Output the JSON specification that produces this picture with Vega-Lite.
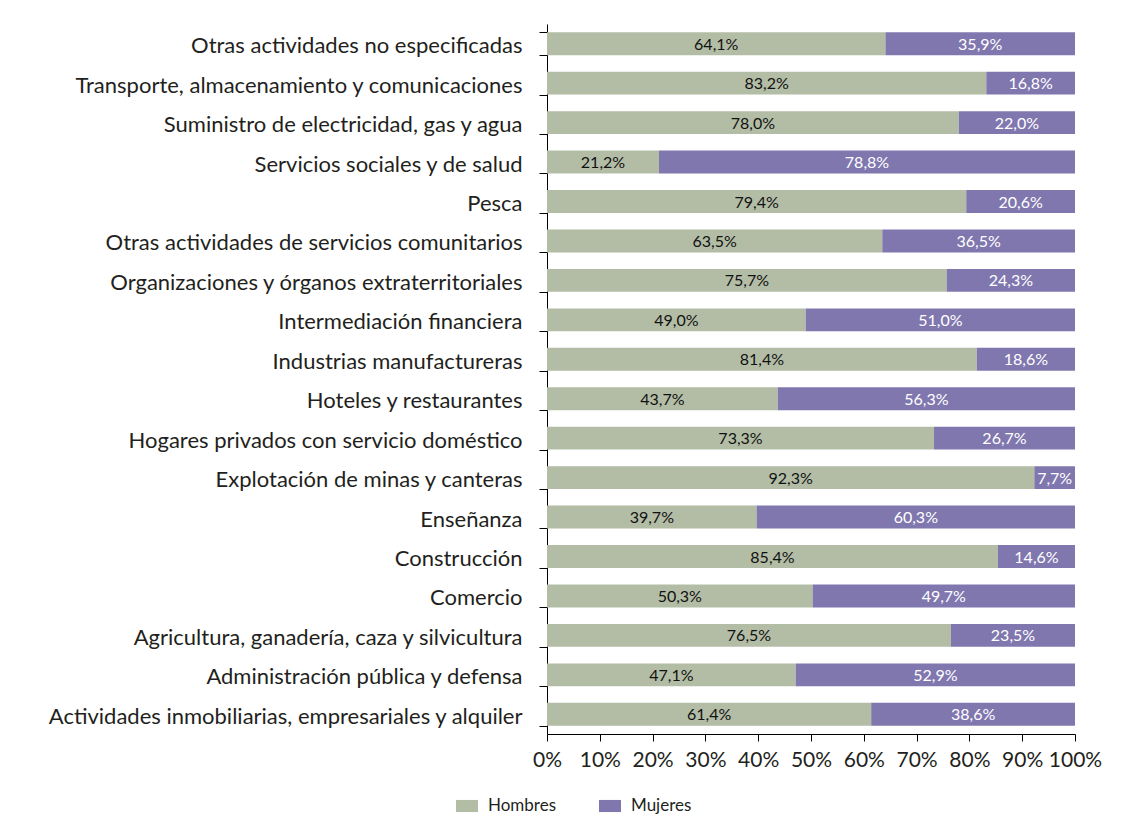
{
  "$schema": "https://vega.github.io/schema/vega-lite/v6.json",
  "autosize": "none",
  "padding": {"left": 547, "top": 24, "right": 59, "bottom": 89},
  "width": 528,
  "height": 710,
  "background": "white",
  "config": {
    "locale": {"number": {"decimal": ",", "thousands": ".", "grouping": [3], "currency": ["", " €"]}},
    "view": {"stroke": null},
    "font": "Lato"
  },
  "data": {
    "values": [
      {"actividad": "Otras actividades no especificadas", "sexo": "Hombres", "valor": 0.641},
      {"actividad": "Otras actividades no especificadas", "sexo": "Mujeres", "valor": 0.359},
      {"actividad": "Transporte, almacenamiento  y comunicaciones", "sexo": "Hombres", "valor": 0.832},
      {"actividad": "Transporte, almacenamiento  y comunicaciones", "sexo": "Mujeres", "valor": 0.168},
      {"actividad": "Suministro de electricidad, gas y agua", "sexo": "Hombres", "valor": 0.780},
      {"actividad": "Suministro de electricidad, gas y agua", "sexo": "Mujeres", "valor": 0.220},
      {"actividad": "Servicios sociales y de salud", "sexo": "Hombres", "valor": 0.212},
      {"actividad": "Servicios sociales y de salud", "sexo": "Mujeres", "valor": 0.788},
      {"actividad": "Pesca", "sexo": "Hombres", "valor": 0.794},
      {"actividad": "Pesca", "sexo": "Mujeres", "valor": 0.206},
      {"actividad": "Otras actividades de servicios comunitarios", "sexo": "Hombres", "valor": 0.635},
      {"actividad": "Otras actividades de servicios comunitarios", "sexo": "Mujeres", "valor": 0.365},
      {"actividad": "Organizaciones y órganos extraterritoriales", "sexo": "Hombres", "valor": 0.757},
      {"actividad": "Organizaciones y órganos extraterritoriales", "sexo": "Mujeres", "valor": 0.243},
      {"actividad": "Intermediación financiera", "sexo": "Hombres", "valor": 0.490},
      {"actividad": "Intermediación financiera", "sexo": "Mujeres", "valor": 0.510},
      {"actividad": "Industrias manufactureras", "sexo": "Hombres", "valor": 0.814},
      {"actividad": "Industrias manufactureras", "sexo": "Mujeres", "valor": 0.186},
      {"actividad": "Hoteles y restaurantes", "sexo": "Hombres", "valor": 0.437},
      {"actividad": "Hoteles y restaurantes", "sexo": "Mujeres", "valor": 0.563},
      {"actividad": "Hogares privados con servicio doméstico", "sexo": "Hombres", "valor": 0.733},
      {"actividad": "Hogares privados con servicio doméstico", "sexo": "Mujeres", "valor": 0.267},
      {"actividad": "Explotación de minas y canteras", "sexo": "Hombres", "valor": 0.923},
      {"actividad": "Explotación de minas y canteras", "sexo": "Mujeres", "valor": 0.077},
      {"actividad": "Enseñanza", "sexo": "Hombres", "valor": 0.397},
      {"actividad": "Enseñanza", "sexo": "Mujeres", "valor": 0.603},
      {"actividad": "Construcción", "sexo": "Hombres", "valor": 0.854},
      {"actividad": "Construcción", "sexo": "Mujeres", "valor": 0.146},
      {"actividad": "Comercio", "sexo": "Hombres", "valor": 0.503},
      {"actividad": "Comercio", "sexo": "Mujeres", "valor": 0.497},
      {"actividad": "Agricultura, ganadería, caza y silvicultura", "sexo": "Hombres", "valor": 0.765},
      {"actividad": "Agricultura, ganadería, caza y silvicultura", "sexo": "Mujeres", "valor": 0.235},
      {"actividad": "Administración pública y defensa", "sexo": "Hombres", "valor": 0.471},
      {"actividad": "Administración pública y defensa", "sexo": "Mujeres", "valor": 0.529},
      {"actividad": "Actividades inmobiliarias, empresariales y alquiler", "sexo": "Hombres", "valor": 0.614},
      {"actividad": "Actividades inmobiliarias, empresariales y alquiler", "sexo": "Mujeres", "valor": 0.386}
    ]
  },
  "encoding": {
    "y": {
      "field": "actividad",
      "type": "nominal",
      "sort": null,
      "scale": {"paddingInner": 0.42, "paddingOuter": 0.21},
      "axis": {
        "title": null,
        "tickBand": "extent",
        "domainColor": "#000000",
        "tickColor": "#000000",
        "tickSize": 8,
        "labelFontSize": 22,
        "labelColor": "#231f20",
        "labelPadding": 17,
        "labelOffset": 2,
        "labelLimit": 600
      }
    },
    "x": {
      "field": "valor",
      "type": "quantitative",
      "stack": "zero",
      "scale": {"domain": [0, 1], "nice": false},
      "axis": {
        "title": null,
        "format": ".0%",
        "values": [0, 0.1, 0.2, 0.3, 0.4, 0.5, 0.6, 0.7, 0.8, 0.9, 1],
        "grid": false,
        "domainColor": "#000000",
        "tickColor": "#000000",
        "tickSize": 7,
        "labelFontSize": 21,
        "labelColor": "#231f20",
        "labelPadding": 8,
        "labelFlush": false
      }
    },
    "order": {"field": "sexo"}
  },
  "layer": [
    {
      "mark": {"type": "bar"},
      "encoding": {
        "color": {
          "field": "sexo",
          "type": "nominal",
          "scale": {"domain": ["Hombres", "Mujeres"], "range": ["#b3bda6", "#8077af"]},
          "legend": {
            "title": null,
            "orient": "none",
            "direction": "horizontal",
            "legendX": -91,
            "legendY": 771,
            "padding": 0,
            "symbolType": "M-1,-0.55H1V0.55H-1Z",
            "symbolSize": 484,
            "symbolStrokeWidth": 0,
            "labelFontSize": 17,
            "labelColor": "#231f20",
            "labelOffset": 10,
            "columnPadding": 42
          }
        }
      }
    },
    {
      "mark": {"type": "text", "fontSize": 16, "baseline": "middle", "align": "center", "dy": 1},
      "encoding": {
        "x": {"field": "valor", "type": "quantitative", "stack": "zero", "bandPosition": 0.5},
        "detail": {"field": "sexo"},
        "text": {"field": "valor", "type": "quantitative", "format": ".1%"},
        "color": {
          "condition": {"test": "datum.sexo === 'Mujeres'", "value": "#ffffff"},
          "value": "#111111"
        }
      }
    }
  ]
}
